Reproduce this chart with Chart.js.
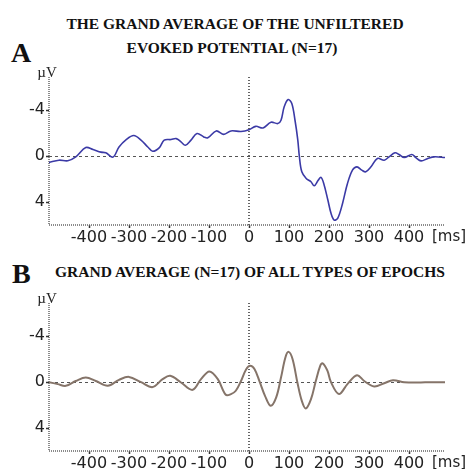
<!DOCTYPE html>
<html>
<head>
<meta charset="utf-8">
<script src="https://cdn.jsdelivr.net/npm/chart.js@4.4.1/dist/chart.umd.min.js"></script>
<style>
  html, body { margin: 0; padding: 0; background: #fff; }
  #page { position: relative; width: 467px; height: 469px; overflow: hidden; font-family: "Liberation Serif", serif; color: #111; }
  .title { position: absolute; font-weight: bold; font-size: 15.5px; line-height: 16px; white-space: nowrap; transform: translateX(-50%); }
  .letter { position: absolute; font-weight: bold; font-size: 28px; line-height: 28px; }
  .box { position: absolute; left: 0; width: 467px; }
</style>
</head>
<body>
<div id="page">
  <div class="title" style="left:235px; top:16px;">THE GRAND AVERAGE OF THE UNFILTERED</div>
  <div class="title" style="left:232px; top:40px;">EVOKED POTENTIAL (N=17)</div>
  <div class="letter" style="left:11px; top:39px;">A</div>
  <div class="box" style="top:60px; height:190px;"><canvas id="chartA"></canvas></div>

  <div class="letter" style="left:12px; top:260px;">B</div>
  <div class="title" style="left:250px; top:264px;">GRAND AVERAGE (N=17) OF ALL TYPES OF EPOCHS</div>
  <div class="box" style="top:286px; height:183px;"><canvas id="chartB"></canvas></div>
</div>

<script>
// time axis (ms) and amplitudes (µV, negative up)
const timesA = [-500, -475, -453, -433, -408, -390, -370, -358, -340, -325, -307, -288, -270, -253, -241,
    -224, -212, -195, -182, -170, -159, -145, -130, -113, -103, -82, -63, -45, -20, 0,
    17, 35, 55, 72, 80, 88, 98, 107, 115, 122, 126, 132, 143, 155, 163,
    173, 180, 187, 197, 205, 213, 222, 234, 246, 259, 270, 282, 292, 305, 321,
    338, 350, 365, 375, 388, 407, 417, 430, 447, 463, 490];
const valuesA = [0.55, 0.35, 0.4, 0.06, -0.75, -0.58, -0.35, -0.3, 0.08, -0.8, -1.45, -1.8, -1.4, -0.8, -0.43,
    -0.75, -1.4, -1.45, -1.53, -1.25, -0.95, -1.4, -1.97, -1.68, -1.6, -2.2, -1.9, -2.2, -2.15, -2.3,
    -2.6, -2.46, -2.96, -2.84, -3.13, -4.3, -4.93, -4.58, -3.13, -1.4, 0.06, 1.36, 1.94, 2.23, 2.58,
    2.1, 1.85, 2.4, 3.8, 4.98, 5.57, 5.4, 4.1, 2.4, 1.2, 0.93, 1.22, 1.36, 0.93, 0.2,
    0.35, 0.06, -0.29, -0.15, 0.12, -0.15, 0.12, 0.41, 0.2, 0.06, 0.12];

const timesB = [-500, -478, -458, -433, -408, -383, -353, -325, -300, -270, -241, -216, -197, -170, -141,
    -120, -99, -78, -58, -45, -33, -20, -7, 3, 14, 27, 40, 54, 68, 80,
    91, 99, 109, 121, 132, 142, 155, 167, 178, 184, 196, 205, 225, 246, 270,
    288, 313, 338, 360, 388, 422, 455, 490];
const valuesB = [0, 0.17, 0.32, -0.1, -0.4, -0.1, 0.32, -0.2, -0.46, 0, 0.43, -0.26, -0.55, 0.03, 0.67,
    -0.26, -0.93, -0.26, 1.1, 1.04, 0.75, -0.1, -1.13, -1.42, -1.13, 0, 1.19, 2.06, 1.33, -0.4,
    -2.15, -2.64, -2.0, 0.03, 1.63, 2.29, 1.48, -0.1, -1.42, -1.65, -1.0, 0, 1.04, 0.17, -0.6,
    -0.1, 0.38, 0.09, -0.17, 0, 0.03, 0, 0];

const xTicks = [-400, -300, -200, -100, 0, 100, 200, 300, 400];
const yTicks = [-4, 0, 4];
const yUnit = 'µV';
const xUnit = '[ms]';

const tickFont = { family: 'DejaVu Sans', size: 16 };

// zero line, stimulus line, dotted axes and unit labels
const eegDecor = {
    id: 'eegDecor',
    beforeDatasetsDraw(chart) {
        const { ctx, chartArea: a, scales: { x, y } } = chart;
        const line = (x1, y1, x2, y2) => { ctx.beginPath(); ctx.moveTo(x1, y1); ctx.lineTo(x2, y2); ctx.stroke(); };
        ctx.save();
        // dashed baseline at 0 µV
        ctx.setLineDash([3, 3]);
        ctx.strokeStyle = '#555';
        ctx.lineWidth = 1;
        const y0 = Math.round(y.getPixelForValue(0)) + 0.5;
        line(a.left, y0, a.right, y0);
        // dotted line at stimulus onset
        ctx.setLineDash([1, 2]);
        ctx.strokeStyle = '#333';
        ctx.lineWidth = 1.5;
        const x0 = x.getPixelForValue(0);
        line(x0, a.top, x0, a.bottom);
        // dotted axes
        ctx.setLineDash([1, 1]);
        ctx.strokeStyle = '#666';
        line(a.left, a.top, a.left, a.bottom);
        line(a.left, a.bottom, a.right, a.bottom);
        ctx.restore();
    },
    afterDraw(chart) {
        const { ctx, chartArea: a } = chart;
        ctx.save();
        ctx.fillStyle = '#222';
        ctx.font = '15px "Liberation Serif"';
        ctx.textAlign = 'center';
        ctx.textBaseline = 'alphabetic';
        ctx.fillText(yUnit, a.left - 2, a.top);
        ctx.font = '15px "DejaVu Sans"';
        ctx.textBaseline = 'top';
        ctx.textAlign = 'left';
        ctx.fillText(xUnit, a.right - 13, a.bottom + 5);
        ctx.restore();
    },
};

function makeEegChart(canvasId, times, values, color, lineWidth, xAxisHeight) {
    const ctx = document.getElementById(canvasId).getContext('2d');
    return new Chart(ctx, {
        type: 'line',
        data: {
            datasets: [{
                data: times.map((t, i) => ({ x: t, y: values[i] })),
                borderColor: color,
                borderWidth: lineWidth,
                pointRadius: 0,
                tension: 0.35,
                fill: false,
            }],
        },
        options: {
            responsive: true,
            maintainAspectRatio: false,
            animation: false,
            layout: { padding: { left: 0, right: 22, top: 17, bottom: 0 } },
            plugins: { legend: { display: false }, tooltip: { enabled: false } },
            scales: {
                x: {
                    type: 'linear',
                    min: -500,
                    max: 490,
                    afterBuildTicks: (scale) => { scale.ticks = xTicks.map((v) => ({ value: v })); },
                    afterFit: (scale) => { scale.height = xAxisHeight; },
                    ticks: {
                        autoSkip: false,
                        maxRotation: 0,
                        minRotation: 0,
                        padding: 0,
                        color: '#222',
                        font: tickFont,
                        callback: (v) => String(v),
                    },
                    grid: { drawOnChartArea: false, drawTicks: true, tickLength: 3, tickColor: '#333', tickWidth: 1.5 },
                    border: { display: false },
                },
                y: {
                    type: 'linear',
                    reverse: true,
                    min: -6.9,
                    max: 6,
                    afterBuildTicks: (scale) => { scale.ticks = yTicks.map((v) => ({ value: v })); },
                    afterFit: (scale) => { scale.width = 49; },
                    ticks: {
                        padding: 1,
                        color: '#222',
                        font: tickFont,
                        callback: (v) => String(v),
                    },
                    grid: { drawOnChartArea: false, drawTicks: true, tickLength: 3, tickColor: '#333', tickWidth: 1.5 },
                    border: { display: false },
                },
            },
        },
        plugins: [eegDecor],
    });
}

makeEegChart('chartA', timesA, valuesA, '#3b3aa6', 1.6, 25);
makeEegChart('chartB', timesB, valuesB, '#857469', 2, 18);
</script>
</body>
</html>
